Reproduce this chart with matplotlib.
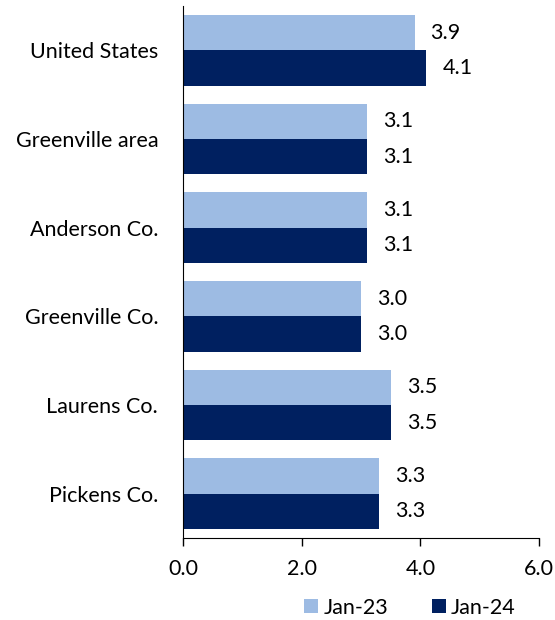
import numpy as np
import matplotlib
matplotlib.use("Agg")
import matplotlib.pyplot as plt

plt.rcParams['font.family'] = ['Lato', 'DejaVu Sans']

# -------------------- data --------------------
regions = ["United States", "Greenville area", "Anderson Co.",
           "Greenville Co.", "Laurens Co.", "Pickens Co."]
jan23 = [3.9, 3.1, 3.1, 3.0, 3.5, 3.3]
jan24 = [4.1, 3.1, 3.1, 3.0, 3.5, 3.3]
series_names = ["Jan-23", "Jan-24"]
xticks = [0.0, 2.0, 4.0, 6.0]

light = "#9DBBE3"
navy = "#002060"
fs = 15.5

# -------------------- plot --------------------
fig = plt.figure(figsize=(5.55, 6.2), dpi=100)
ax = fig.add_axes([0.33, 0.1323, 0.6414, 0.858])

y = np.arange(len(regions))
h = 0.4
b1 = ax.barh(y - h / 2, jan23, height=h, color=light, label=series_names[0])
b2 = ax.barh(y + h / 2, jan24, height=h, color=navy, label=series_names[1])

for bars, vals in [(b1, jan23), (b2, jan24)]:
    for bar, v in zip(bars, vals):
        ax.text(v + 0.27, bar.get_y() + bar.get_height() / 2, f"{v:.1f}",
                va="center", ha="left", fontsize=fs, color="black")

ax.set_ylim(len(regions) - 0.5, -0.5)
ax.set_xlim(0, 6)
ax.set_xticks(xticks)
ax.set_xticklabels([f"{t:.1f}" for t in xticks], fontsize=fs)
ax.set_yticks(y)
ax.set_yticklabels(regions, fontsize=fs)
ax.tick_params(axis="y", length=0, pad=18)
ax.tick_params(axis="x", direction="out", length=6, width=1, pad=9)

for s in ["top", "right"]:
    ax.spines[s].set_visible(False)
ax.spines["left"].set_color("black")
ax.spines["bottom"].set_color("black")

fig.legend(handles=[b1, b2], labels=series_names, loc="center",
           bbox_to_anchor=(0.739, 0.02), ncol=2, frameon=False,
           fontsize=fs, handlelength=0.65, handleheight=0.65,
           handletextpad=0.25, columnspacing=2.0)

fig.savefig("out.png", dpi=100)
